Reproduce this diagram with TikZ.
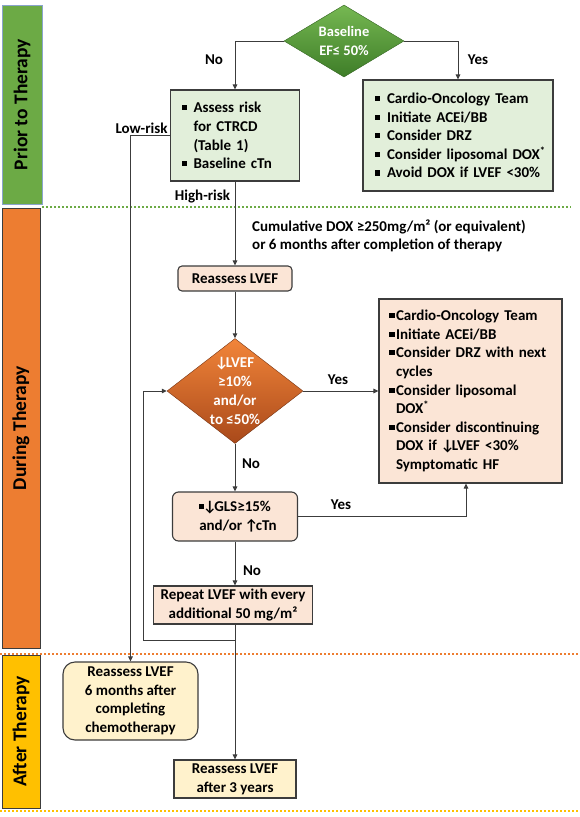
\documentclass[tikz,border=0pt]{standalone}
\usepackage{fontspec}
\setmainfont{Carlito}
\usepackage{xcolor}
\usepackage{tikz}
\usetikzlibrary{arrows.meta,shapes.geometric}

\definecolor{barGreen}{HTML}{6CAA45}
\definecolor{barBlue}{HTML}{8AA4CC}
\definecolor{barOrange}{HTML}{ED7D31}
\definecolor{barYellow}{HTML}{FFC000}
\definecolor{boxGreen}{HTML}{E2EFDA}
\definecolor{boxPink}{HTML}{FBE5D6}
\definecolor{boxYellow}{HTML}{FFF2CC}
\definecolor{lineDark}{HTML}{3C3C3C}
\definecolor{baseTop}{HTML}{76B852}
\definecolor{baseBot}{HTML}{3E7D28}
\definecolor{dropTop}{HTML}{F2853A}
\definecolor{dropBot}{HTML}{A9491A}

\newcommand\sqbul{\rule[0.16em]{0.34em}{0.34em}}
\newcommand\gitem{\makebox[12pt][l]{\sqbul}}
\newcommand\gcont{\hspace*{12pt}}
\newcommand\pitem{\makebox[13pt][r]{\sqbul\hspace{1.5pt}}}
\newcommand\pcont{\hspace*{13pt}}
\newcommand\dn{\kern-1pt↓\kern-2.5pt}
\newcommand\up{\kern-1pt↑\kern-2.5pt}

\begin{document}
\begin{tikzpicture}[x=1pt, y=-1pt,
    font=\fontsize{15}{18.6}\selectfont\bfseries,
    arr/.style={draw=lineDark, line width=1pt, -{Triangle[length=5pt,width=4.5pt]}},
    greenbox/.style={draw=lineDark, fill=boxGreen, line width=1.1pt},
    pinkbox/.style={draw=lineDark, fill=boxPink, line width=1.1pt},
    yellowbox/.style={draw=lineDark, fill=boxYellow, line width=1.1pt},
    bar/.style={rotate=90, line width=1pt, inner sep=0pt,
      font=\fontsize{19.5}{22}\selectfont\bfseries},
    dtxt/.style={text=white, align=center, inner sep=0pt},
    lbl/.style={inner sep=0pt}]
  \useasboundingbox (0,0) rectangle (579,817);

  % Phase bars
  \node[bar, fill=barGreen, draw=barBlue, minimum width=199pt, minimum height=40pt]
    (prior) at (22,104.5) {Prior to Therapy};
  \node[bar, fill=barOrange, draw=lineDark, minimum width=440pt, minimum height=38pt]
    (during) at (21,428) {During Therapy};
  \node[bar, fill=barYellow, draw=lineDark, minimum width=153pt, minimum height=38pt]
    (after) at (21,731.5) {After Therapy};
  \draw[barGreen, line width=2pt, dash pattern=on 2pt off 2pt] (42,207) -- (571,207);
  \draw[barOrange, line width=2pt, dash pattern=on 2pt off 2pt] (0,654) -- (579,654);
  \draw[barYellow, line width=2pt, dash pattern=on 2pt off 2pt] (0,811) -- (579,811);

  % Prior to therapy
  \node[diamond, draw=baseBot!80!black, top color=baseTop, bottom color=baseBot,
    minimum width=120pt, minimum height=72pt, inner sep=0pt] (base) at (344,41) {};
  \node[dtxt, font=\fontsize{14.5}{19}\selectfont\bfseries] (baseText) at (base.center)
    {Baseline\\EF≤ 50\%};
  \node[greenbox, minimum width=129pt, minimum height=91pt, text width=107pt,
    inner xsep=11pt, align=left] (risk) at (235,135.5)
    {\gitem Assess risk\\\gcont for CTRCD\\\gcont (Table 1)\\\gitem Baseline cTn};
  \node[greenbox, minimum width=190pt, minimum height=111pt, text width=166pt,
    inner xsep=12pt, align=left] (drug) at (458,135.5)
    {\gitem Cardio-Oncology Team\\\gitem Initiate ACEi/BB\\\gitem Consider DRZ\\
     \gitem\mbox{Consider liposomal DOX\textsuperscript{*}}\\\gitem Avoid DOX if LVEF <30\%};
  \draw[arr] (base.west) -| (risk.north);
  \draw[arr] (base.east) -| (drug.north);
  \node[lbl] (noBase) at (214,60) {No};
  \node[lbl] (yesBase) at (478,60) {Yes};

  % During therapy
  \node[anchor=west, align=left, inner sep=0pt] (cumul) at (252,236)
    {Cumulative DOX ≥250mg/m² (or equivalent)\\or 6 months after completion of therapy};
  \node[pinkbox, rounded corners=4pt, minimum width=114pt, minimum height=25pt,
    inner sep=0pt] (reval) at (235,278.5) {Reassess LVEF};
  \node[diamond, draw=dropBot!70!black, top color=dropTop, bottom color=dropBot,
    minimum width=136pt, minimum height=105pt, inner sep=0pt] (drop) at (235,391) {};
  \node[dtxt, font=\fontsize{15}{19}\selectfont\bfseries] (dropText) at (drop.center)
    {\dn LVEF\\≥10\%\\and/or\\to ≤50\%};
  \node[pinkbox, minimum width=183pt, minimum height=184pt, text width=175pt,
    inner xsep=4pt, align=left] (manage) at (470.5,391)
    {\pitem Cardio-Oncology Team\\\pitem Initiate ACEi/BB\\\pitem Consider DRZ with next\\
     \pcont cycles\\\pitem Consider liposomal\\\pcont DOX\textsuperscript{*}\\
     \pitem Consider discontinuing\\\pcont DOX if \dn LVEF <30\%\\\pcont Symptomatic HF};
  \node[pinkbox, rounded corners=6pt, minimum width=125pt, minimum height=49pt,
    inner sep=0pt, align=center] (gls) at (235,516.5)
    {\sqbul\dn GLS≥15\%\\\hspace*{6pt}and/or \up cTn};
  \node[pinkbox, minimum width=159pt, minimum height=38pt, inner sep=0pt,
    align=center, font=\fontsize{15}{18}\selectfont\bfseries] (rep) at (233,605)
    {Repeat LVEF with every\\additional 50 mg/m²};
  \coordinate (loopc) at (143,640);

  \draw[arr] (risk.south) -- (reval.north);
  \draw[arr] (reval.south) -- (drop.north);
  \draw[arr] (drop.east) -- (manage.west |- drop.east);
  \draw[arr] (drop.south) -- (gls.north);
  \draw[arr] (gls.east) -| ([xshift=-4.5pt]manage.south);
  \draw[arr] (gls.south) -- (rep.north -| gls.south);
  \draw[arr] (rep.south -| gls.south) |- (loopc) |- (drop.west);
  \node[lbl] (highRisk) at (202.5,197) {High-risk};
  \node[lbl] (yesDrop) at (338,380) {Yes};
  \node[lbl] (noDrop) at (251,464) {No};
  \node[lbl] (yesGls) at (341,505) {Yes};
  \node[lbl] (noGls) at (252,571) {No};

  % After therapy
  \node[yellowbox, rounded corners=12pt, minimum width=135pt, minimum height=78pt,
    inner sep=0pt, align=center] (six) at (130.5,701)
    {Reassess LVEF\\6 months after\\completing\\chemotherapy};
  \node[yellowbox, minimum width=122pt, minimum height=38pt, inner sep=0pt,
    align=center, font=\fontsize{15}{19}\selectfont\bfseries] (three) at (235,779)
    {Reassess LVEF\\after 3 years};
  \draw[arr] (risk.west) -| (six.north);
  \node[lbl] (lowRisk) at (141.5,128) {Low-risk};
  \draw[arr] (rep.south -| gls.south) -- (three.north);
\end{tikzpicture}
\end{document}
